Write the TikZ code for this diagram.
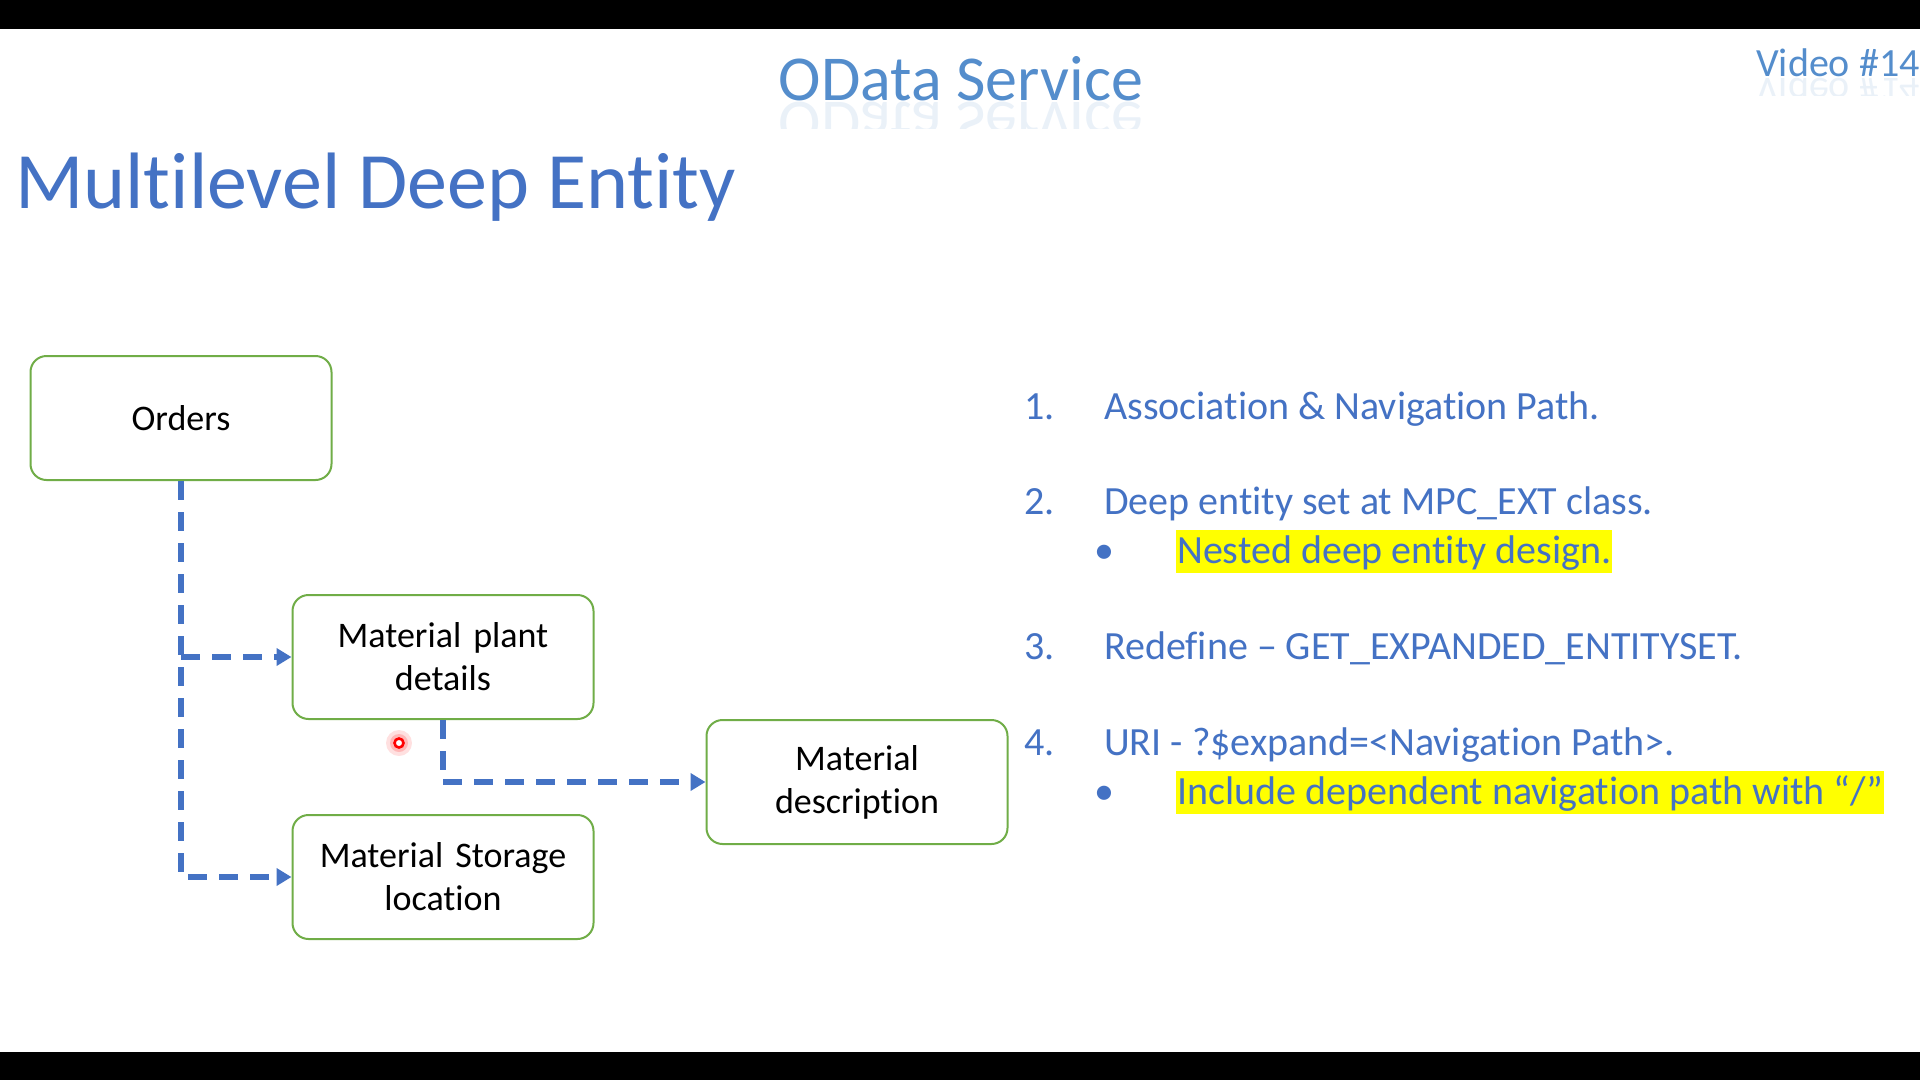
\documentclass[tikz,border=0pt]{standalone}
\usepackage{fontspec}
\setmainfont[Ligatures=NoCommon]{Carlito}
\usetikzlibrary{arrows.meta}
\definecolor{tblue}{RGB}{68,114,196}
\definecolor{lblue}{RGB}{84,141,204}
\definecolor{bgreen}{RGB}{112,173,71}
\definecolor{hyellow}{RGB}{255,255,0}
\tikzset{
  entity/.style={draw=bgreen, line width=2pt, rounded corners=16pt, fill=white,
    minimum width=301pt, minimum height=124pt, align=center, text width=280pt,
    font=\fontsize{36}{43}\selectfont, text=black, inner sep=0pt},
  link/.style={draw=tblue, line width=5.5pt, dash pattern=on 19pt off 12pt},
  linkarrow/.style={link, -{Triangle[length=15pt,width=17pt]}},
  itemnum/.style={anchor=base west, inner sep=0pt, text=tblue, font=\fontsize{40}{48}\selectfont},
  itemtext/.style={anchor=base west, inner sep=0pt, text=tblue, font=\fontsize{40}{48}\selectfont},
  hilite/.style={anchor=base west, fill=hyellow, text=tblue, font=\fontsize{40}{48}\selectfont,
    inner xsep=1pt, inner ysep=0pt, text height=33pt, text depth=10pt},
}
\begin{document}
\begin{tikzpicture}[x=1pt,y=-1pt]
\useasboundingbox (0,0) rectangle (1920,1080);
\fill[white] (0,0) rectangle (1920,1080);
\fill[black] (0,0) rectangle (1920,29);
\fill[black] (0,1052) rectangle (1920,1080);

% headings
\node[anchor=base, inner sep=0pt, text=lblue, font=\fontsize{64}{70}\selectfont] (odata) at (961,100) {OData Service};
\begin{scope}
\clip (700,101) rectangle (1200,128);
\node[anchor=base, inner sep=0pt, text=lblue, opacity=0.12, font=\fontsize{64}{70}\selectfont, transform shape, yscale=-1] (odataref) at (961,102) {OData Service};
\end{scope}
\node[anchor=base west, inner sep=0pt, text=lblue, font=\fontsize{40}{48}\selectfont] (video) at (1756,76) {Video \#14};
\begin{scope}
\clip (1740,77) rectangle (1920,95);
\node[anchor=base west, inner sep=0pt, text=lblue, opacity=0.12, font=\fontsize{40}{48}\selectfont, transform shape, yscale=-1] (videoref) at (1756,78) {Video \#14};
\end{scope}
\node[anchor=base west, inner sep=0pt, text=tblue, font=\fontsize{80}{90}\selectfont] (title) at (15,208) {Multilevel Deep Entity};

% entities
\node[entity] (orders) at (181,418) {Orders};
\node[entity] (plant) at (443,657) {Material plant\\details};
\node[entity] (storage) at (443,877) {Material Storage\\location};
\node[entity] (desc) at (857,782) {Material\\description};

% connectors
\draw[linkarrow] (orders.south) |- (storage.west);
\coordinate (branch) at (orders.south |- plant.west);
\draw[linkarrow] (branch) -- (plant.west);
\draw[linkarrow] (plant.south) |- (desc.west);

% laser pointer
\fill[red, opacity=0.12] (399,743) circle (13pt);
\fill[red, opacity=0.18] (399,743) circle (9pt);
\draw[red, line width=2.6pt, fill=white] (399,743) circle (4.5pt);

% list
\node[itemnum] (n1) at (1024,419) {1.};
\node[itemtext] (t1) at (1104,419) {Association \& Navigation Path.};
\node[itemnum] (n2) at (1024,514) {2.};
\node[itemtext] (t2) at (1104,514) {Deep entity set at MPC\_EXT class.};
\node[itemnum] (b2) at (1094,563) {•};
\node[hilite] (h2) at (1176,563) {Nested deep entity design.};
\node[itemnum] (n3) at (1024,659) {3.};
\node[itemtext] (t3) at (1104,659) {Redefine – GET\_EXPANDED\_ENTITYSET.};
\node[itemnum] (n4) at (1024,755) {4.};
\node[itemtext] (t4) at (1104,755) {URI - ?\$expand=<Navigation Path>.};
\node[itemnum] (b4) at (1094,804) {•};
\node[hilite] (h4) at (1176,804) {Include dependent navigation path with “/”};
\end{tikzpicture}
\end{document}
